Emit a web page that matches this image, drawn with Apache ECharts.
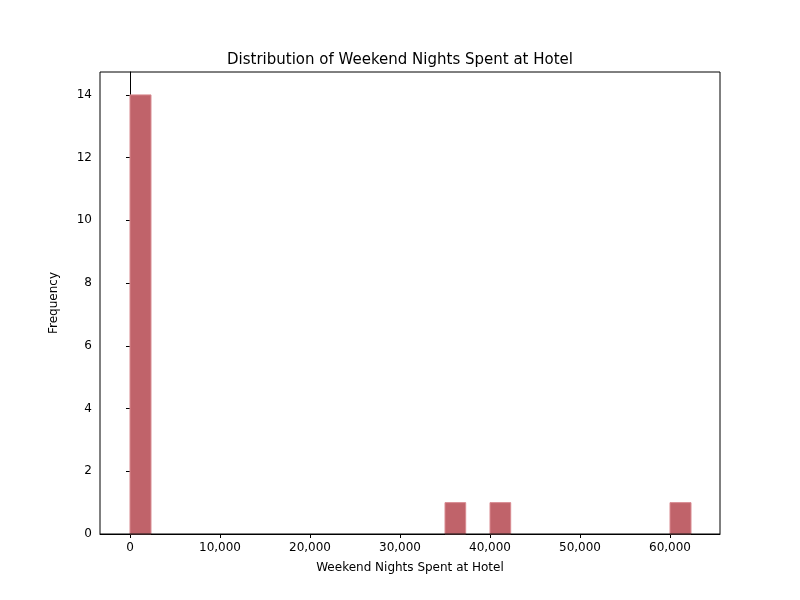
<!DOCTYPE html>
<html><head><meta charset="utf-8">
<script src="https://cdn.jsdelivr.net/npm/echarts@6/dist/echarts.min.js"></script>
<style>html,body{margin:0;padding:0;background:#fff}#c{width:800px;height:600px}</style>
</head><body><div id="c"></div>
<script>
const binStarts = [0, 35000, 40000, 60000];
const binEnds = [2333, 37300, 42300, 62333];
const counts = [14, 1, 1, 1];
const xTicks = [0, 10000, 20000, 30000, 40000, 50000, 60000];
const yTicks = [0, 2, 4, 6, 8, 10, 12, 14];
const data = binStarts.map((s, i) => [s, binEnds[i], counts[i]]);
const chart = echarts.init(document.getElementById('c'));
const font = 'DejaVu Sans';
chart.setOption({
  animation: false,
  title: {text: 'Distribution of Weekend Nights Spent at Hotel', left: 'center', top: 48,
    textStyle: {fontFamily: font, fontSize: 15, fontWeight: 'normal', color: '#000'}},
  grid: {left: 100, right: 80, top: 72, bottom: 66},
  xAxis: {type: 'value', min: -3333, max: 65555,
    name: 'Weekend Nights Spent at Hotel', nameLocation: 'middle', nameGap: 28,
    nameTextStyle: {fontFamily: font, fontSize: 12, color: '#000'},
    axisLine: {show: true, onZero: false, lineStyle: {color: '#000'}},
    axisTick: {show: true, customValues: xTicks, length: 4, lineStyle: {color: '#000'}},
    axisLabel: {customValues: xTicks, fontFamily: font, fontSize: 12, color: '#000'},
    splitLine: {show: false}},
  yAxis: {type: 'value', min: 0, max: 14.73,
    name: 'Frequency', nameLocation: 'middle', nameGap: 40,
    nameTextStyle: {fontFamily: font, fontSize: 12, color: '#000'},
    axisLine: {show: true, lineStyle: {color: '#000'}},
    axisTick: {show: true, customValues: yTicks, length: 4, lineStyle: {color: '#000'}},
    axisLabel: {customValues: yTicks, fontFamily: font, fontSize: 12, color: '#000'},
    splitLine: {show: false}},
  graphic: [{type: 'rect', shape: {x: 100, y: 72, width: 620, height: 462},
    style: {fill: 'none', stroke: '#000', lineWidth: 1}, silent: true, z: 10}],
  series: [{type: 'custom', data: data,
    renderItem: (params, api) => {
      const p0 = api.coord([api.value(0), api.value(2)]);
      const p1 = api.coord([api.value(1), 0]);
      return {type: 'rect', shape: {x: p0[0], y: p0[1], width: p1[0] - p0[0], height: p1[1] - p0[1]},
        style: {fill: '#c0636a', stroke: '#d98a90', lineWidth: 1}};
    }}]
});
</script></body></html>
